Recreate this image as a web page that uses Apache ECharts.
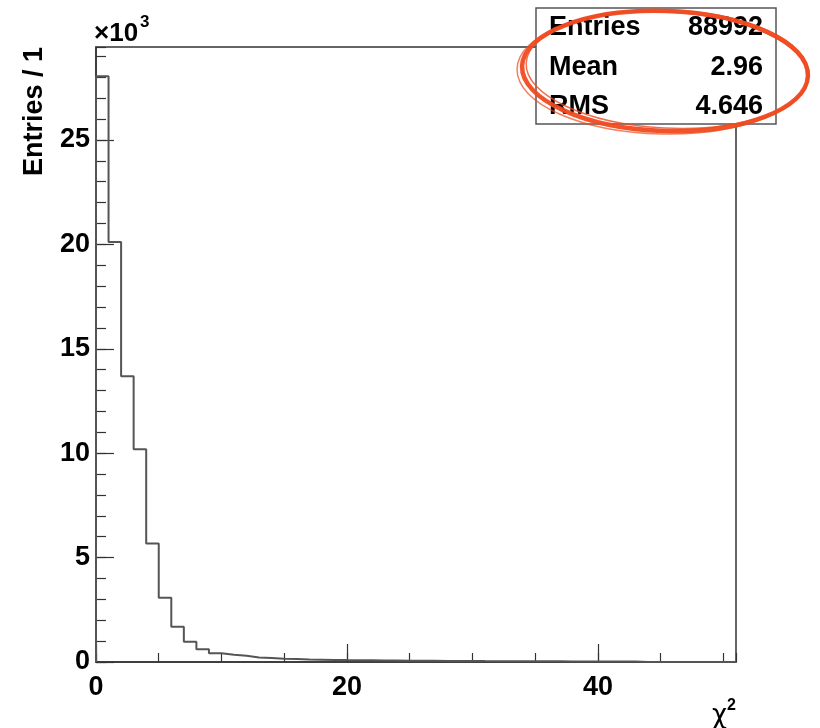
<!DOCTYPE html>
<html>
<head>
<meta charset="utf-8">
<script src="https://cdn.jsdelivr.net/npm/echarts@6/dist/echarts.min.js"></script>
<style>html,body{margin:0;padding:0;background:#fff;}#c{width:820px;height:728px;}</style>
</head>
<body>
<div id="c"></div>
<script>
// ---- data ----
const binWidth = 1;
const xMin = 0;
const xMax = 51;
const counts = [
  28050, 20110, 13680, 10190, 5680, 3080, 1690, 970, 610, 420,
  350, 300, 220, 190, 160, 140, 120, 110, 100, 90,
  85, 80, 75, 70, 65, 60, 55, 50, 48, 45,
  42, 40, 38, 36, 34, 32, 30, 28, 26, 25, 24, 22, 20,
  0, 0, 0, 0, 0, 0, 0, 0
];
const yMax = 29450;
const xTickMajor = 20, xTickMinor = 5;
const yTickMajor = 5000, yTickMinor = 1000;
const yScaleFactor = 1000;
const xTitle = 'χ';
const xTitleSup = '2';
const yTitle = 'Entries / 1';
const statLabels = ['Entries', 'Mean', 'RMS'];
const statValues = ['88992', '2.96', '4.646'];

// ---- build step outline ----
const pts = [[xMin, 0]];
counts.forEach((c, i) => pts.push([xMin + i * binWidth, c]));
pts.push([xMin + counts.length * binWidth, 0]);

const FONT = 'Liberation Sans, Arial, Helvetica, sans-serif';
const axisCol = '#333';
const chart = echarts.init(document.getElementById('c'), null, {renderer: 'canvas'});

const statGraphics = [];
statLabels.forEach((l, i) => {
  const yc = 28 + i * 39.2;
  statGraphics.push({type: 'text', x: 549, y: yc, z: 102,
    style: {text: l, font: 'bold 27px ' + FONT, fill: '#000', textAlign: 'left', textVerticalAlign: 'middle'}});
  statGraphics.push({type: 'text', x: 763, y: yc, z: 102,
    style: {text: statValues[i], font: 'bold 27px ' + FONT, fill: '#000', textAlign: 'right', textVerticalAlign: 'middle'}});
});

const red = '#f04a20';
const ellipses = [
  {cx: 665, cy: 71, rx: 143, ry: 60, rot: -0.035, w: 4.5, o: 0.95},
  {cx: 667, cy: 70, rx: 141, ry: 58, rot: -0.05, w: 1.5, o: 0.8},
  {cx: 663, cy: 72, rx: 146, ry: 62, rot: -0.02, w: 1.5, o: 0.7}
].map(e => ({type: 'ellipse', x: e.cx, y: e.cy, rotation: e.rot, z: 110,
  shape: {cx: 0, cy: 0, rx: e.rx, ry: e.ry},
  style: {fill: 'none', stroke: red, lineWidth: e.w, opacity: e.o}}));

const option = {
  backgroundColor: '#fff',
  animation: false,
  grid: {left: 96, right: 84, top: 47, bottom: 66, show: true, borderColor: axisCol, borderWidth: 1.5, backgroundColor: 'transparent'},
  xAxis: [
    {type: 'value', min: xMin, max: xMax, interval: xTickMajor, position: 'bottom',
      axisLine: {show: true, lineStyle: {color: axisCol, width: 1.5}},
      axisTick: {show: true, inside: true, length: 18, lineStyle: {color: axisCol, width: 1.2}},
      axisLabel: {show: true, margin: 12, color: '#000', fontSize: 27, fontWeight: 'bold', fontFamily: FONT,
        showMaxLabel: false, formatter: v => (v % xTickMajor === 0 ? String(v) : '')},
      splitLine: {show: false}},
    {type: 'value', min: xMin, max: xMax, interval: xTickMinor, position: 'bottom',
      axisLine: {show: false},
      axisTick: {show: true, inside: true, length: 9, lineStyle: {color: axisCol, width: 1.2}},
      axisLabel: {show: false}, splitLine: {show: false}}
  ],
  yAxis: [
    {type: 'value', min: 0, max: yMax, interval: yTickMajor, position: 'left',
      axisLine: {show: true, lineStyle: {color: axisCol, width: 1.5}},
      axisTick: {show: true, inside: true, length: 18, lineStyle: {color: axisCol, width: 1.2}},
      axisLabel: {show: true, margin: 6, color: '#000', fontSize: 27, fontWeight: 'bold', fontFamily: FONT,
        showMaxLabel: false, formatter: v => (v % yTickMajor === 0 ? String(v / yScaleFactor) : '')},
      splitLine: {show: false}},
    {type: 'value', min: 0, max: yMax, interval: yTickMinor, position: 'left',
      axisLine: {show: false},
      axisTick: {show: true, inside: true, length: 10, lineStyle: {color: axisCol, width: 1.2}},
      axisLabel: {show: false}, splitLine: {show: false}}
  ],
  series: [{
    type: 'line', step: 'end', data: pts, xAxisIndex: 0, yAxisIndex: 0,
    showSymbol: false, symbol: 'none',
    lineStyle: {color: '#555', width: 2}, z: 5
  }],
  graphic: [
    {type: 'text', x: 35, y: 47, rotation: Math.PI / 2, z: 100,
      style: {text: yTitle, font: 'bold 27px ' + FONT, fill: '#000', textAlign: 'right', textVerticalAlign: 'middle'}},
    {type: 'text', x: 94, y: 34, z: 100,
      style: {text: '×10', font: 'bold 26px ' + FONT, fill: '#000', textAlign: 'left', textVerticalAlign: 'middle'}},
    {type: 'text', x: 140, y: 22, z: 100,
      style: {text: '3', font: 'bold 17px ' + FONT, fill: '#000', textAlign: 'left', textVerticalAlign: 'middle'}},
    {type: 'text', x: 727, y: 716, z: 100,
      style: {text: xTitle, font: '26px DejaVu Sans, Noto Sans, sans-serif', fill: '#000', textAlign: 'right', textVerticalAlign: 'middle'}},
    {type: 'text', x: 727, y: 706, z: 100,
      style: {text: xTitleSup, font: 'bold 16px ' + FONT, fill: '#000', textAlign: 'left', textVerticalAlign: 'middle'}},
    {type: 'rect', x: 536, y: 8, z: 101,
      shape: {width: 240, height: 116},
      style: {fill: '#fff', stroke: '#555', lineWidth: 1.5}},
    ...statGraphics,
    ...ellipses
  ]
};
chart.setOption(option);
</script>
</body>
</html>
